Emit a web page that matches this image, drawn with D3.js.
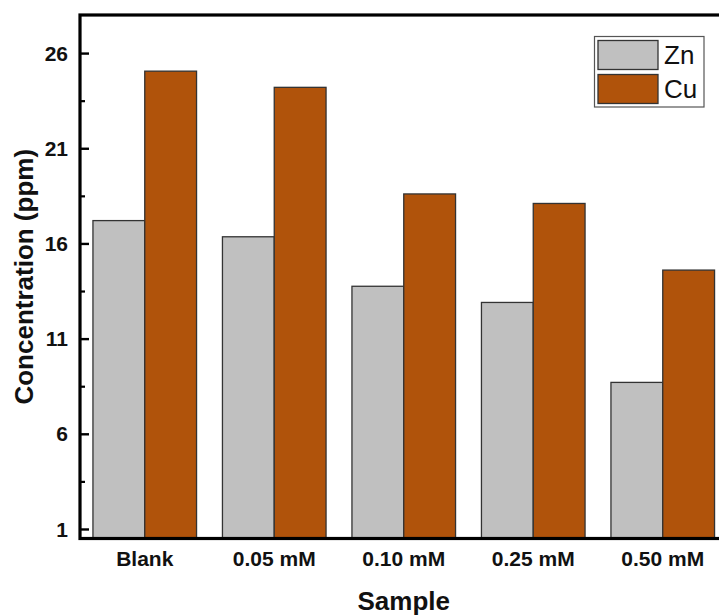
<!DOCTYPE html>
<html>
<head>
<meta charset="utf-8">
<script src="https://cdn.jsdelivr.net/npm/d3@7"></script>
<style>
  html, body { margin: 0; padding: 0; background: #fff; }
  svg { display: block; font-family: "Liberation Sans", Arial, sans-serif; }
</style>
</head>
<body>
<svg id="chart" width="719" height="616"></svg>
<script>
// ---- data ----
const categories = ["Blank", "0.05 mM", "0.10 mM", "0.25 mM", "0.50 mM"];
const seriesNames = ["Zn", "Cu"];
const znValues = [17.2, 16.35, 13.75, 12.9, 8.7];
const cuValues = [25.05, 24.2, 18.6, 18.1, 14.6];
const majorTicks = [1, 6, 11, 16, 21, 26];
const minorTicks = [3.5, 8.5, 13.5, 18.5, 23.5];
const seriesColors = ["#c0c0c0", "#b0530b"];

(function () {
const svg = d3.select("#chart");
const pLeft = 80, pRight = 727.5, pTop = 15, pBottom = 538.5;

const x = d3.scaleBand().domain(categories).range([pLeft, pRight]).paddingInner(0.2).paddingOuter(0.1);
const xs = d3.scaleBand().domain(seriesNames).range([0, x.bandwidth()]);
const y = d3.scaleLinear().domain([0.5, 28]).range([pBottom, pTop]);
const color = d3.scaleOrdinal().domain(seriesNames).range(seriesColors);

const rows = categories.map((c, i) => ({ cat: c, vals: [
  { s: "Zn", v: znValues[i] }, { s: "Cu", v: cuValues[i] } ] }));

// bars
const g = svg.append("g");
g.selectAll("g.grp").data(rows).join("g")
  .attr("transform", d => `translate(${x(d.cat)},0)`)
  .selectAll("rect").data(d => d.vals).join("rect")
  .attr("x", d => xs(d.s))
  .attr("width", xs.bandwidth())
  .attr("y", d => y(d.v))
  .attr("height", d => y(0.5) - y(d.v))
  .attr("fill", d => color(d.s))
  .attr("stroke", "#333")
  .attr("stroke-width", 1.3);

// frame
svg.append("rect")
  .attr("x", pLeft).attr("y", pTop)
  .attr("width", pRight - pLeft).attr("height", pBottom - pTop)
  .attr("fill", "none").attr("stroke", "#000").attr("stroke-width", 3.2);

// y axis ticks (inward)
const yAxis = d3.axisRight(y).tickValues(majorTicks).tickSize(9).tickFormat("");
const ya = svg.append("g").attr("transform", `translate(${pLeft},0)`).call(yAxis);
ya.select(".domain").remove();
ya.selectAll("line").attr("stroke", "#000").attr("stroke-width", 2.4);
const yMinor = d3.axisRight(y).tickValues(minorTicks).tickSize(5).tickFormat("");
const ym = svg.append("g").attr("transform", `translate(${pLeft},0)`).call(yMinor);
ym.select(".domain").remove();
ym.selectAll("line").attr("stroke", "#000").attr("stroke-width", 2.2);

// y tick labels
svg.append("g").selectAll("text").data(majorTicks).join("text")
  .attr("x", 68).attr("y", d => y(d)).attr("dy", "0.36em")
  .attr("text-anchor", "end")
  .attr("font-size", 21).attr("font-weight", "bold").attr("fill", "#111")
  .text(d => d);

// x labels
svg.append("g").selectAll("text").data(categories).join("text")
  .attr("x", d => x(d) + x.bandwidth() / 2).attr("y", 566)
  .attr("text-anchor", "middle")
  .attr("font-size", 21).attr("font-weight", "bold").attr("fill", "#111")
  .text(d => d);

// axis titles
svg.append("text").attr("x", (pLeft + pRight) / 2).attr("y", 610)
  .attr("text-anchor", "middle").attr("font-size", 26).attr("font-weight", "bold")
  .attr("fill", "#111").text("Sample");
svg.append("text").attr("transform", `translate(33,${(pTop + pBottom) / 2}) rotate(-90)`)
  .attr("text-anchor", "middle").attr("font-size", 26).attr("font-weight", "bold")
  .attr("fill", "#111").text("Concentration (ppm)");

// legend
const lg = svg.append("g");
lg.append("rect").attr("x", 594.5).attr("y", 36.5).attr("width", 109.5).attr("height", 70.5)
  .attr("fill", "#fff").attr("stroke", "#555").attr("stroke-width", 1.2);
seriesNames.forEach((s, i) => {
  lg.append("rect").attr("x", 598).attr("y", 40.5 + i * 34).attr("width", 60).attr("height", 29)
    .attr("fill", color(s)).attr("stroke", "#333").attr("stroke-width", 1.3);
  lg.append("text").attr("x", 664).attr("y", 55 + i * 34).attr("dy", "0.36em")
    .attr("font-size", 26).attr("fill", "#111").text(s);
});
})();
</script>
</body>
</html>
